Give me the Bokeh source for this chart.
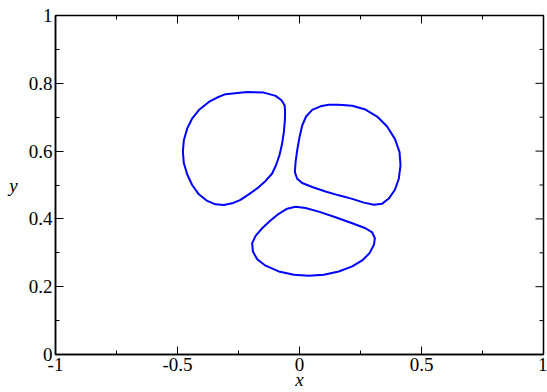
from bokeh.plotting import figure
from bokeh.models import Range1d, LinearAxis, FixedTicker
from bokeh.embed import file_html
from bokeh.resources import INLINE

# ---- data ----
x_ticks = [-1, -0.5, 0, 0.5, 1]
x_tick_labels = ["-1", "-0.5", "0", "0.5", "1"]
x_minor = [-0.75, -0.25, 0.25, 0.75]
y_ticks = [0, 0.2, 0.4, 0.6, 0.8, 1]
y_tick_labels = ["0", "0.2", "0.4", "0.6", "0.8", "1"]
y_minor = [0.1, 0.3, 0.5, 0.7, 0.9]

blob1_x = [-0.303, -0.2145, -0.146, -0.098, -0.074, -0.061, -0.059, -0.060, -0.064, -0.071,
           -0.082, -0.096, -0.112, -0.139, -0.1735, -0.208, -0.242, -0.276, -0.310, -0.344,
           -0.378, -0.4125, -0.440, -0.460, -0.474, -0.478, -0.474, -0.460, -0.440, -0.4125,
           -0.3715, -0.3375, -0.303]
blob1_y = [0.768, 0.7745, 0.7725, 0.763, 0.750, 0.735, 0.716, 0.691, 0.657, 0.623,
           0.588, 0.559, 0.534, 0.512, 0.490, 0.4725, 0.456, 0.446, 0.441, 0.443,
           0.453, 0.4725, 0.500, 0.531, 0.564, 0.598, 0.632, 0.667, 0.696, 0.721,
           0.745, 0.758, 0.768]

blob2_x = [0.161, 0.216, 0.2705, 0.318, 0.359, 0.391, 0.410, 0.414, 0.407, 0.391,
           0.366, 0.339, 0.305, 0.264, 0.216, 0.161, 0.1065, 0.052, 0.011, -0.0095,
           -0.019, -0.016, -0.0095, 0.000, 0.011, 0.027, 0.052, 0.086, 0.120, 0.161]
blob2_y = [0.737, 0.734, 0.7225, 0.702, 0.6725, 0.636, 0.597, 0.558, 0.5185, 0.486,
           0.460, 0.445, 0.442, 0.448, 0.459, 0.4695, 0.481, 0.494, 0.506, 0.5185,
           0.538, 0.568, 0.602, 0.641, 0.6755, 0.702, 0.7215, 0.732, 0.737, 0.737]

blob3_x = [-0.0165, 0.0245, 0.079, 0.1475, 0.216, 0.2705, 0.298, 0.309, 0.305, 0.287,
           0.257, 0.216, 0.161, 0.0995, 0.038, -0.023, -0.085, -0.139, -0.1735, -0.191,
           -0.194, -0.180, -0.153, -0.119, -0.085, -0.0505, -0.0165]
blob3_y = [0.436, 0.432, 0.4215, 0.405, 0.387, 0.3725, 0.360, 0.343, 0.3235, 0.299,
           0.2775, 0.260, 0.245, 0.235, 0.232, 0.235, 0.245, 0.262, 0.281, 0.304,
           0.3285, 0.350, 0.3725, 0.395, 0.415, 0.430, 0.436]

FONT = "'Liberation Serif'"
FS = "19px"

p = figure(width=547, height=392, output_backend="svg", toolbar_location=None,
           x_range=Range1d(-1, 1), y_range=Range1d(0, 1),
           x_axis_location=None, y_axis_location=None,
           min_border_left=55, min_border_right=4, min_border_top=15, min_border_bottom=37)
p.grid.visible = False
p.background_fill_color = "white"
p.border_fill_color = "white"
p.outline_line_color = "black"
p.outline_line_width = 1.5


def style_axis(ax, ticks, minor, labels):
    ax.ticker = FixedTicker(ticks=ticks, minor_ticks=minor)
    ax.major_tick_in = 8
    ax.major_tick_out = 0
    ax.minor_tick_in = 4
    ax.minor_tick_out = 0
    ax.axis_line_color = "black"
    ax.axis_line_width = 1.5
    ax.major_tick_line_color = "black"
    ax.minor_tick_line_color = "black"
    ax.major_label_overrides = {t: l for t, l in zip(ticks, labels)}
    ax.major_label_text_font = FONT
    ax.major_label_text_font_size = FS
    ax.major_label_text_color = "black"
    ax.major_label_standoff = 3


xb = LinearAxis()
style_axis(xb, x_ticks, x_minor, x_tick_labels)
xb.major_label_standoff = 3
xb.axis_label = "x"
xb.axis_label_text_font = FONT
xb.axis_label_text_font_style = "italic"
xb.axis_label_text_font_size = FS
xb.axis_label_text_color = "black"
xb.axis_label_standoff = -5
p.add_layout(xb, "below")

yl = LinearAxis()
style_axis(yl, y_ticks, y_minor, y_tick_labels)
yl.axis_label = "y"
yl.axis_label_text_font = FONT
yl.axis_label_text_font_style = "italic"
yl.axis_label_text_font_size = FS
yl.axis_label_text_color = "black"
yl.axis_label_standoff = 8
yl.axis_label_orientation = "horizontal"
p.add_layout(yl, "left")

# mirrored ticks on top and right sides (inside the frame)
top_major_len = 8 / 340.0
top_minor_len = 4 / 340.0
right_major_len = 8 / 244.0
right_minor_len = 4 / 244.0
p.segment(x0=x_ticks, x1=x_ticks, y0=[1] * len(x_ticks), y1=[1 - top_major_len] * len(x_ticks),
          line_color="black", line_width=1)
p.segment(x0=x_minor, x1=x_minor, y0=[1] * len(x_minor), y1=[1 - top_minor_len] * len(x_minor),
          line_color="black", line_width=1)
p.segment(x0=[1] * len(y_ticks), x1=[1 - right_major_len] * len(y_ticks), y0=y_ticks, y1=y_ticks,
          line_color="black", line_width=1)
p.segment(x0=[1] * len(y_minor), x1=[1 - right_minor_len] * len(y_minor), y0=y_minor, y1=y_minor,
          line_color="black", line_width=1)

for bx, by in [(blob1_x, blob1_y), (blob2_x, blob2_y), (blob3_x, blob3_y)]:
    p.line(bx, by, line_color="#0000ff", line_width=2, line_join="round")

open("out.html", "w").write(file_html(p, INLINE))
